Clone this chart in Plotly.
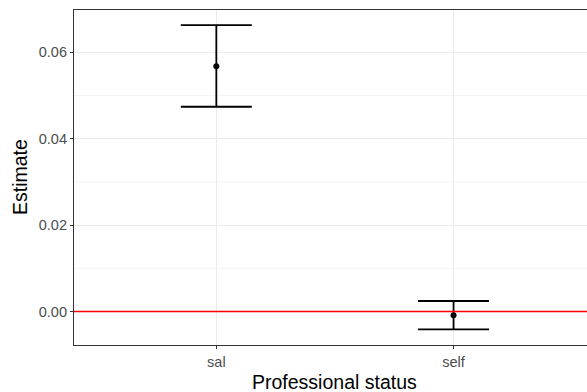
import plotly.graph_objects as go

# Estimates by professional status with confidence bounds
categories = ["sal", "self"]
estimates = [0.0568, -0.00088]
upper = [0.0663, 0.00243]
lower = [0.0474, -0.00412]

err_plus = [u - e for u, e in zip(upper, estimates)]
err_minus = [e - l for e, l in zip(estimates, lower)]
xpos = [1, 2]

W, H = 587, 392
ml, mt, mb = 74, 10, 47
x_range = [0.4, 2.5625]
y_range = [-0.00775, 0.0698]

pw, ph = W - ml, H - mt - mb

def px_x(p):
    return (p - ml) / pw

def px_y(p):
    return (H - mb - p) / ph

fig = go.Figure()

fig.add_trace(go.Scatter(
    x=xpos, y=estimates, mode="markers",
    marker=dict(color="black", size=6),
    error_y=dict(type="data", symmetric=False, array=err_plus, arrayminus=err_minus,
                 color="black", thickness=1.8, width=35.5),
    showlegend=False, hoverinfo="skip",
))

# reference line at zero
fig.add_shape(type="line", xref="paper", yref="y", x0=0, x1=1, y0=0, y1=0,
              line=dict(color="red", width=1.5), layer="above")

grid = "#EBEBEB"
# minor horizontal gridlines
for v in [-0.01, 0.01, 0.03, 0.05]:
    fig.add_shape(type="line", xref="paper", yref="y", x0=0, x1=1, y0=v, y1=v,
                  line=dict(color=grid, width=0.6), layer="below")

fig.update_layout(
    width=W, height=H,
    margin=dict(l=ml, r=0, t=mt, b=mb),
    paper_bgcolor="white", plot_bgcolor="white",
    font=dict(family="Liberation Sans, Arial, sans-serif"),
    xaxis=dict(
        range=x_range, tickmode="array", tickvals=xpos, ticktext=categories,
        showgrid=True, gridcolor=grid, gridwidth=1.1, zeroline=False,
        showline=True, linecolor="#333333", linewidth=1.2, mirror=True,
        ticks="outside", ticklen=3, tickcolor="#333333", tickwidth=1,
        tickfont=dict(size=14.5, color="#4D4D4D"),
    ),
    yaxis=dict(
        range=y_range, tickmode="array", tickvals=[0, 0.02, 0.04, 0.06],
        tickformat=".2f",
        showgrid=True, gridcolor=grid, gridwidth=1.1, zeroline=False,
        showline=True, linecolor="#333333", linewidth=1.2, mirror=False,
        ticks="outside", ticklen=3, tickcolor="#333333", tickwidth=1,
        tickfont=dict(size=14.5, color="#4D4D4D"),
    ),
    annotations=[
        dict(text="Professional status", xref="paper", yref="paper",
             x=px_x(334), y=px_y(382), xanchor="center", yanchor="middle",
             showarrow=False, font=dict(size=19.5, color="black")),
        dict(text="Estimate", xref="paper", yref="paper", textangle=-90,
             x=px_x(20), y=px_y(177), xanchor="center", yanchor="middle",
             showarrow=False, font=dict(size=19.5, color="black")),
    ],
)

fig.write_html("out.html")
